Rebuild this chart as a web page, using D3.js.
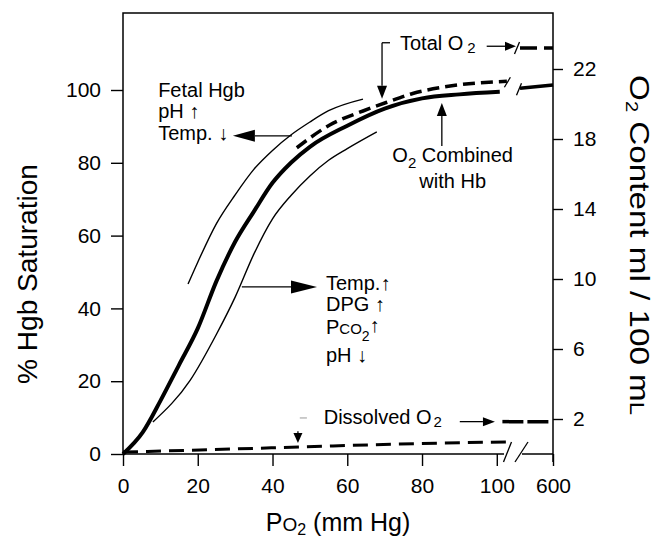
<!DOCTYPE html>
<html>
<head>
<meta charset="utf-8">
<script src="https://cdn.jsdelivr.net/npm/d3@7"></script>
<style>
  html, body { margin: 0; padding: 0; background: #fff; }
  #chart { width: 670px; height: 542px; }
  text { font-family: "Liberation Sans", Arial, Helvetica, sans-serif; fill: #000; }
</style>
</head>
<body>
<div id="chart"></div>
<script>
// O2 combined with Hb (normal curve), Po2 in mm Hg vs % saturation
const combinedPo2 = [0, 5.3, 10, 15, 20, 25, 30, 35, 40, 45, 50, 60, 70, 80, 90, 100.8];
const combinedSat = [0, 6, 14.6, 24.5, 34.5, 47.5, 58.3, 66.6, 74.5, 80.1, 84.4, 90.2, 94.9, 97.7, 98.8, 99.5];
// left shifted curve (fetal Hgb, pH up, temp down)
const leftPo2 = [17.4, 20, 25, 30, 35, 40, 45, 50, 55, 64.2];
const leftSat = [46.7, 52.7, 63.3, 71.2, 78.2, 83.4, 87.7, 91.2, 94.3, 97.5];
// right shifted curve (temp, DPG, Pco2 up, pH down)
const rightPo2 = [8, 18, 25, 30, 35, 40, 45, 50, 55, 60, 67.9];
const rightSat = [8.8, 20.3, 32.9, 43.1, 54.9, 64.6, 71.1, 76.4, 80.7, 83.9, 88.5];
// total O2 content, ml / 100 ml
const totalPo2 = [46.5, 55.3, 64.2, 70.6, 77.5, 86.6, 102.7];
const totalMl = [17.5, 18.8, 19.6, 20.1, 20.6, 21.0, 21.3];
// dissolved O2 content, ml / 100 ml
const dissolvedPo2 = [0, 20.6, 47.3, 74, 102.7];
const dissolvedMl = [0.11, 0.23, 0.4, 0.57, 0.69];
// values past the axis break (Po2 = 600)
const combinedHighPo2 = [555, 600];
const combinedHighSat = [100.5, 101.4];
const totalHighPo2 = [555, 600];
const totalHighMl = [23.2, 23.2];
const dissolvedHighPo2 = [101.5, 595];
const dissolvedHighMl = [1.85, 1.85];

const xTicks = [0, 20, 40, 60, 80, 100, 600];
const satTicks = [0, 20, 40, 60, 80, 100];
const mlTicks = [2, 6, 10, 14, 18, 22];

(function() {
  if (typeof d3 === 'undefined') {
    console.error('D3.js is required but not loaded');
    return;
  }

  const width = 670;
  const height = 542;
  const margin = { top: 13, right: 117, bottom: 88, left: 123 };
  const innerWidth = width - margin.left - margin.right;
  const innerHeight = height - margin.top - margin.bottom;

  const svg = d3.select('#chart')
    .append('svg')
    .attr('width', width)
    .attr('height', height)
    .append('g')
    .attr('transform', `translate(${margin.left},${margin.top})`);

  // broken x axis: 0-103 then jump to 555-600
  const x = d3.scaleLinear()
    .domain([0, 103, 555, 600])
    .range([0, 385, 397, innerWidth]);
  const ySat = d3.scaleLinear().domain([0, 100]).range([innerHeight, 77]);
  const yMl = d3.scaleLinear().domain([0, 22]).range([innerHeight, 56]);

  const ink = '#000';

  function curve(xs, ys, yScale, smooth) {
    return d3.line()
      .x(d => x(d[0]))
      .y(d => yScale(d[1]))
      .curve(smooth ? d3.curveMonotoneX : d3.curveLinear)(d3.zip(xs, ys));
  }

  function arrow(x1, y1, x2, y2, headLen, headHalf) {
    const a = Math.atan2(y2 - y1, x2 - x1);
    const bx = x2 - headLen * Math.cos(a);
    const by = y2 - headLen * Math.sin(a);
    svg.append('line')
      .attr('x1', x1).attr('y1', y1).attr('x2', bx).attr('y2', by)
      .attr('stroke', ink).attr('stroke-width', 1.3);
    const px = -Math.sin(a) * headHalf;
    const py = Math.cos(a) * headHalf;
    svg.append('path')
      .attr('d', `M${x2},${y2}L${bx + px},${by + py}L${bx - px},${by - py}Z`)
      .attr('fill', ink);
  }

  function slash(cx, cy, h, lean) {
    svg.append('line')
      .attr('x1', cx - lean / 2).attr('y1', cy + h / 2)
      .attr('x2', cx + lean / 2).attr('y2', cy - h / 2)
      .attr('stroke', ink).attr('stroke-width', 1.3);
  }

  // frame
  const bx = x(103);
  const frame = svg.append('g').attr('stroke', ink).attr('stroke-width', 1.5).attr('fill', 'none');
  frame.append('path').attr('d', `M0,${innerHeight}V0H${innerWidth}V${innerHeight + 8}`);
  frame.append('line').attr('x1', 0).attr('y1', innerHeight).attr('x2', bx - 4).attr('y2', innerHeight);
  frame.append('line').attr('x1', bx + 14).attr('y1', innerHeight).attr('x2', innerWidth).attr('y2', innerHeight);
  slash(bx - 0.5, innerHeight - 2, 20, 8);
  slash(bx + 13.5, innerHeight - 2, 20, 13);

  // axes
  function styleAxis(g, size) {
    g.select('.domain').remove();
    g.selectAll('.tick line').attr('stroke', ink).attr('stroke-width', 1.4);
    g.selectAll('.tick text').attr('fill', ink).style('font-size', size + 'px');
  }

  svg.append('g')
    .attr('transform', `translate(0,${innerHeight})`)
    .call(d3.axisBottom(x).tickValues(xTicks).tickSize(12).tickPadding(12).tickFormat(d3.format('d')))
    .call(g => styleAxis(g, 21));

  svg.append('g')
    .call(d3.axisLeft(ySat).tickValues(satTicks).tickSize(12).tickPadding(10).tickFormat(d3.format('d')))
    .call(g => styleAxis(g, 21));

  svg.append('g')
    .attr('transform', `translate(${innerWidth},0)`)
    .call(d3.axisRight(yMl).tickValues(mlTicks).tickSize(10).tickPadding(10).tickFormat(d3.format('d')))
    .call(g => styleAxis(g, 21));

  // curves
  svg.append('path').attr('d', curve(leftPo2, leftSat, ySat, true))
    .attr('fill', 'none').attr('stroke', ink).attr('stroke-width', 1.4);
  svg.append('path').attr('d', curve(rightPo2, rightSat, ySat, true))
    .attr('fill', 'none').attr('stroke', ink).attr('stroke-width', 1.4);
  svg.append('path').attr('d', curve(combinedPo2, combinedSat, ySat, true))
    .attr('fill', 'none').attr('stroke', ink).attr('stroke-width', 4);
  svg.append('path').attr('d', curve(totalPo2, totalMl, yMl, true))
    .attr('fill', 'none').attr('stroke', ink).attr('stroke-width', 3.5).attr('stroke-dasharray', '12,6');
  svg.append('path').attr('d', curve(dissolvedPo2, dissolvedMl, yMl, true))
    .attr('fill', 'none').attr('stroke', ink).attr('stroke-width', 3).attr('stroke-dasharray', '15,8');

  // segments past the break
  svg.append('path').attr('d', curve(combinedHighPo2, combinedHighSat, ySat, false))
    .attr('fill', 'none').attr('stroke', ink).attr('stroke-width', 3.5);
  svg.append('path').attr('d', curve(totalHighPo2, totalHighMl, yMl, false))
    .attr('fill', 'none').attr('stroke', ink).attr('stroke-width', 3.5).attr('stroke-dasharray', '17,7');
  svg.append('path').attr('d', curve(dissolvedHighPo2, dissolvedHighMl, yMl, false))
    .attr('fill', 'none').attr('stroke', ink).attr('stroke-width', 3.5).attr('stroke-dasharray', '21,4');

  // break marks on the curves
  slash(x(102.7) + 0.5, yMl(21.3) + 1, 10, 6);
  slash(x(555) - 1, ySat(100.5) + 1, 12, 5);
  slash(x(555) - 3, yMl(23.2), 12, 5);

  // text helper
  function label(px, py, parts, anchor) {
    const t = svg.append('text')
      .attr('x', px).attr('y', py)
      .attr('text-anchor', anchor || 'start')
      .style('font-size', '20px');
    parts.forEach(p => {
      const s = t.append('tspan').text(p.t);
      if (p.size) s.style('font-size', p.size + 'px');
      if (p.dy) s.attr('dy', p.dy);
      if (p.dx) s.attr('dx', p.dx);
    });
    return t;
  }

  // fetal / left shift annotation
  label(x(9.4), ySat(98.1), [{ t: 'Fetal Hgb' }]);
  label(x(9.4), ySat(92.4), [{ t: 'pH \u2191' }]);
  label(x(9.4), ySat(86.3), [{ t: 'Temp. \u2193' }]);
  arrow(x(45.2), ySat(87.4), x(29.4), ySat(87.4), 22, 6);

  // right shift annotation
  arrow(x(31.8), ySat(45.9), x(51.9), ySat(45.9), 26, 6.5);
  label(x(54.3), ySat(45.05), [{ t: 'Temp.\u2191' }]);
  label(x(54.3), ySat(39.3), [{ t: 'DPG \u2191' }]);
  label(x(54.3), ySat(33.0), [
    { t: 'P' }, { t: 'CO', size: 15 }, { t: '2', size: 14, dy: 7 }, { t: '\u2191', dy: -9 }
  ]);
  label(x(54.3), ySat(25.3), [{ t: 'pH \u2193' }]);

  // total O2
  const tx = x(69.3);
  svg.append('line').attr('x1', tx).attr('y1', yMl(23.5)).attr('x2', tx + 8).attr('y2', yMl(23.5))
    .attr('stroke', ink).attr('stroke-width', 1.3);
  arrow(tx, yMl(23.5), tx, yMl(20.3), 13, 5);
  label(x(74.1), yMl(23.1), [{ t: 'Total O' }, { t: '2', size: 15, dx: 4, dy: 3 }]);
  arrow(x(97.3), yMl(23.3), bx + 8, yMl(23.3), 11, 4.5);

  // O2 combined with Hb
  arrow(x(85.3), ySat(84.6), x(85.3), ySat(96.4), 13, 5);
  label(x(88.2), ySat(80.2), [{ t: 'O' }, { t: '2', size: 15, dy: 6 }, { t: ' Combined', dy: -6 }], 'middle');
  label(x(88.2), ySat(73.1), [{ t: 'with Hb' }], 'middle');

  // dissolved O2
  label(x(53.7), yMl(1.71), [{ t: 'Dissolved O' }, { t: '2', size: 15, dx: 2, dy: 3 }]);
  svg.append('line').attr('x1', x(47.3)).attr('y1', yMl(2.06)).attr('x2', x(49.2)).attr('y2', yMl(2.06))
    .attr('stroke', '#aaa').attr('stroke-width', 1.2);
  arrow(x(90.1), yMl(1.85), x(99.5), yMl(1.85), 12, 4.5);
  arrow(x(46.8), yMl(1.3), x(46.8), yMl(0.63), 10, 4.5);

  // axis titles, stretched along their length like the original
  function fitLength(t, target, cx, cy, angle) {
    const natural = t.node().getComputedTextLength();
    const s = natural > 0 ? target / natural : 1;
    t.attr('transform', `translate(${cx - margin.left},${cy - margin.top}) rotate(${angle}) scale(${s},1)`);
  }

  const lt = svg.append('text')
    .attr('text-anchor', 'middle')
    .style('font-size', '27px')
    .text('% Hgb Saturation');
  fitLength(lt, 220, 37, 274, -90);

  const rt = svg.append('text')
    .attr('text-anchor', 'middle')
    .style('font-size', '28px');
  rt.append('tspan').text('O');
  rt.append('tspan').text('2').style('font-size', '17px').attr('dy', 4);
  rt.append('tspan').text(' Content ml / 100 m').attr('dy', -4);
  rt.append('tspan').text('L').style('font-size', '20px');
  fitLength(rt, 340, 630, 245, 90);

  const xt = svg.append('text')
    .attr('x', innerWidth / 2)
    .attr('y', 531 - margin.top)
    .attr('text-anchor', 'middle')
    .style('font-size', '25px');
  xt.append('tspan').text('P');
  xt.append('tspan').text('O').style('font-size', '19px');
  xt.append('tspan').text('2').style('font-size', '16px').attr('dy', 4);
  xt.append('tspan').text(' (mm Hg)').attr('dy', -4);
})();
</script>
</body>
</html>
